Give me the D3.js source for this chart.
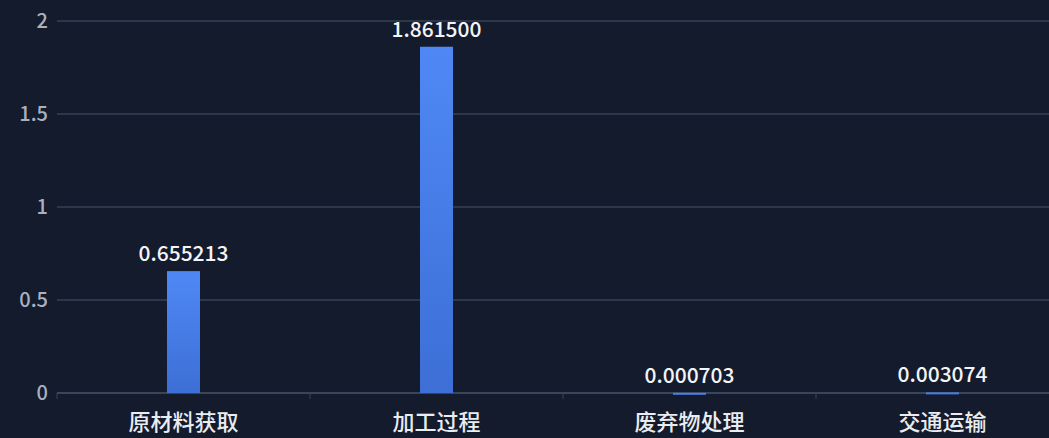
<!DOCTYPE html>
<html>
<head>
<meta charset="utf-8">
<script src="https://cdn.jsdelivr.net/npm/d3@7"></script>
<style>
  html, body { margin: 0; padding: 0; background: #141b2c; overflow: hidden; }
  svg { display: block; font-family: "Noto Sans CJK SC", "Noto Sans", sans-serif; }
</style>
</head>
<body>
<div id="chart"></div>
<script>
var categories = ["原材料获取", "加工过程", "废弃物处理", "交通运输"];
var values = [0.655213, 1.8615, 0.000703, 0.003074];
var valueLabels = ["0.655213", "1.861500", "0.000703", "0.003074"];
var yTicks = [0, 0.5, 1, 1.5, 2];

var width = 1049, height = 438,
    margins = {top: 21, left: 57, right: -20, bottom: 45};

var svg = d3.select("#chart").append("svg")
    .attr("width", width)
    .attr("height", height);

var defs = svg.append("defs");
var grad = defs.append("linearGradient")
    .attr("id", "barGrad")
    .attr("x1", 0).attr("y1", 0).attr("x2", 0).attr("y2", 1);
grad.append("stop").attr("offset", "0%").attr("stop-color", "#4f88f5");
grad.append("stop").attr("offset", "100%").attr("stop-color", "#3d6fd6");

var x = d3.scaleBand()
    .domain(categories)
    .range([margins.left, width - margins.right]);

var y = d3.scaleLinear()
    .domain([0, 2])
    .range([height - margins.bottom, margins.top]);

// grid lines
svg.append("g").selectAll("line")
    .data(yTicks)
    .enter()
    .append("line")
    .attr("x1", margins.left)
    .attr("x2", width - margins.right)
    .attr("y1", function (d) { return y(d); })
    .attr("y2", function (d) { return y(d); })
    .attr("stroke", function (d) { return d === 0 ? "#3a4559" : "#2c3749"; })
    .attr("stroke-width", 2);

// y labels
svg.append("g").selectAll("text")
    .data(yTicks)
    .enter()
    .append("text")
    .attr("x", margins.left - 9)
    .attr("y", function (d) { return y(d); })
    .attr("dy", "0.35em")
    .attr("text-anchor", "end")
    .attr("fill", "#a9b1c1")
    .attr("font-size", 20)
    .attr("font-weight", 500)
    .text(function (d) { return d; });

// x ticks
svg.append("g").selectAll("line")
    .data(d3.range(categories.length + 1))
    .enter()
    .append("line")
    .attr("x1", function (i) { return margins.left + i * x.bandwidth(); })
    .attr("x2", function (i) { return margins.left + i * x.bandwidth(); })
    .attr("y1", y(0))
    .attr("y2", y(0) + 6)
    .attr("stroke", "#3a4559")
    .attr("stroke-width", 1);

// x labels
svg.append("g").selectAll("text")
    .data(categories)
    .enter()
    .append("text")
    .attr("x", function (d) { return x(d) + x.bandwidth() / 2; })
    .attr("y", y(0) + 37)
    .attr("text-anchor", "middle")
    .attr("fill", "#e9ecf1")
    .attr("font-size", 22)
    .attr("font-weight", 500)
    .text(function (d) { return d; });

// bars
var barW = 33;
svg.append("g").selectAll("rect")
    .data(values)
    .enter()
    .append("rect")
    .attr("x", function (d, i) { return x(categories[i]) + x.bandwidth() / 2 - barW / 2; })
    .attr("y", function (d) { return y(d); })
    .attr("width", barW)
    .attr("height", function (d) { return Math.max(y(0) - y(d), 2); })
    .attr("fill", "url(#barGrad)");

// value labels
svg.append("g").selectAll("text")
    .data(values)
    .enter()
    .append("text")
    .attr("x", function (d, i) { return x(categories[i]) + x.bandwidth() / 2; })
    .attr("y", function (d) { return y(d) - 10; })
    .attr("text-anchor", "middle")
    .attr("fill", "#f2f4f7")
    .attr("font-size", 21)
    .attr("font-weight", 500)
    .text(function (d, i) { return valueLabels[i]; });
</script>
</body>
</html>
